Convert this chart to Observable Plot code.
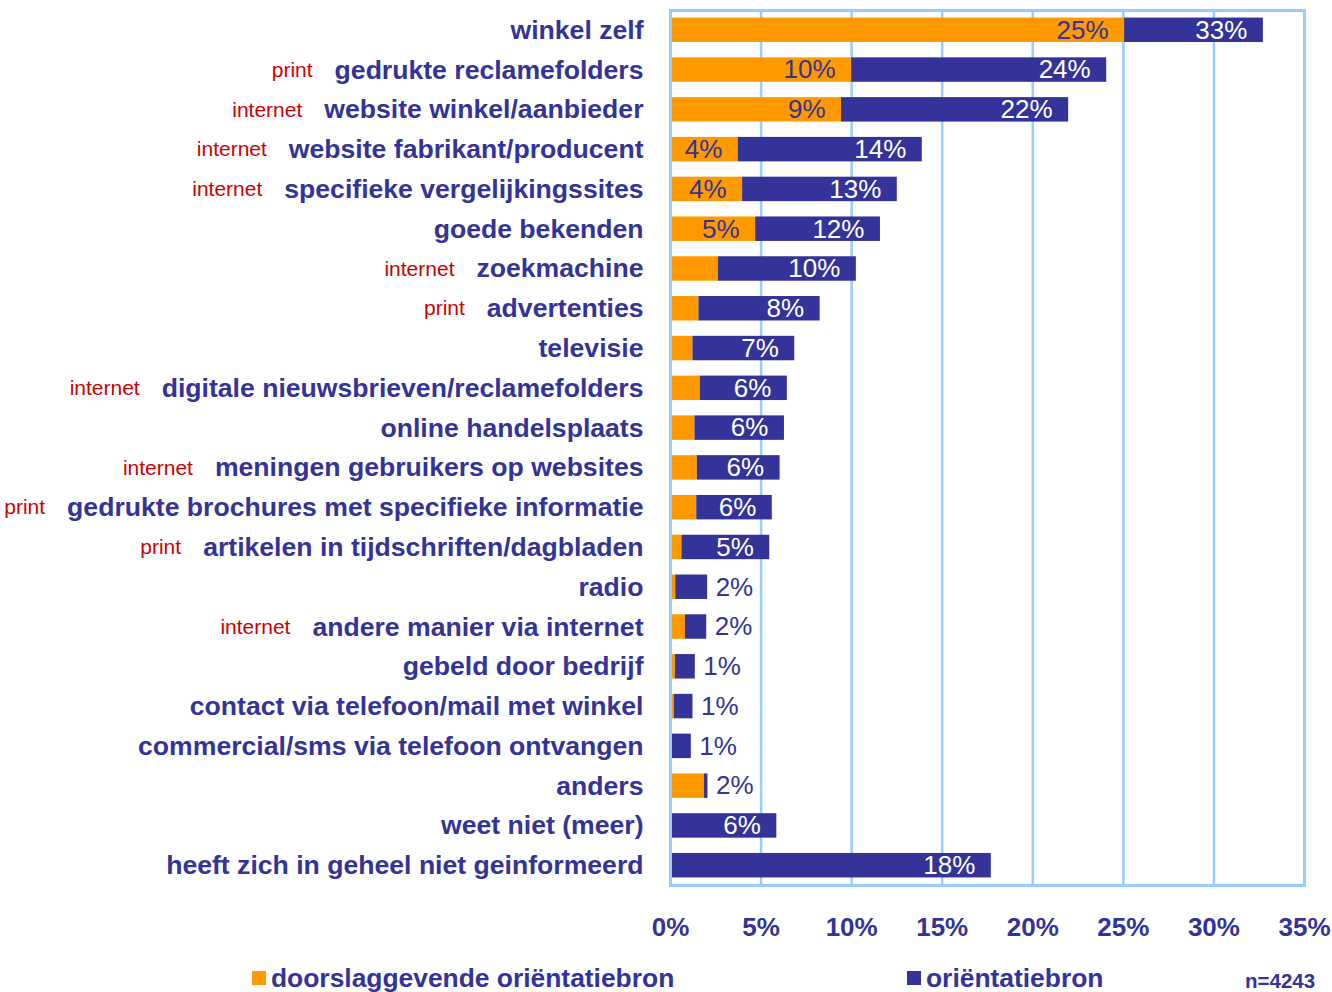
<!DOCTYPE html>
<html><head><meta charset="utf-8">
<script src="https://cdn.jsdelivr.net/npm/d3@7"></script>
<script src="https://cdn.jsdelivr.net/npm/@observablehq/plot@0.6"></script>
<style>
body{margin:0;background:#fff;font-family:"Liberation Sans",Arial,sans-serif;}
#chart{width:1332px;}
#legend{position:relative;width:1332px;height:41px;color:#333399;font-weight:bold;overflow:hidden;}
#legend .item{position:absolute;font-size:26.4px;line-height:26px;white-space:nowrap;}
#legend .sw{position:absolute;width:14px;height:14px;}
#legend .note{position:absolute;font-size:20.5px;line-height:20px;white-space:nowrap;}
</style></head>
<body>
<div id="chart"></div>
<div id="legend"></div>
<script>
// ---- data ----
const categories = [
  "winkel zelf",
  "gedrukte reclamefolders",
  "website winkel/aanbieder",
  "website fabrikant/producent",
  "specifieke vergelijkingssites",
  "goede bekenden",
  "zoekmachine",
  "advertenties",
  "televisie",
  "digitale nieuwsbrieven/reclamefolders",
  "online handelsplaats",
  "meningen gebruikers op websites",
  "gedrukte brochures met specifieke informatie",
  "artikelen in tijdschriften/dagbladen",
  "radio",
  "andere manier via internet",
  "gebeld door bedrijf",
  "contact via telefoon/mail met winkel",
  "commercial/sms via telefoon ontvangen",
  "anders",
  "weet niet (meer)",
  "heeft zich in geheel niet geinformeerd"
];
const channels = ["", "print", "internet", "internet", "internet", "", "internet", "print", "", "internet", "", "internet", "print", "print", "", "internet", "", "", "", "", "", ""];
// doorslaggevende oriëntatiebron (%)
const decisive = [25.07, 10.0, 9.44, 3.74, 3.98, 4.70, 2.64, 1.57, 1.24, 1.65, 1.35, 1.48, 1.45, 0.63, 0.29, 0.82, 0.27, 0.21, 0.05, 1.87, 0, 0];
// oriëntatiebron, totaal (%)
const orientation = [32.73, 24.08, 21.98, 13.90, 12.52, 11.59, 10.26, 8.26, 6.86, 6.45, 6.29, 6.05, 5.62, 5.48, 2.05, 2.00, 1.37, 1.24, 1.15, 2.07, 5.87, 17.71];
const xTicks = [0, 5, 10, 15, 20, 25, 30, 35];
const seriesNames = ["doorslaggevende oriëntatiebron", "oriëntatiebron"];
const sampleNote = "n=4243";

// ---- styles ----
const ORANGE = "#FF9900", NAVY = "#333399", GRID = "#99CCFF", TAG = "#CC0000";
const FONT = "'Liberation Sans', Arial, sans-serif";
const LABEL_SIZE = 26.6;

const rows = categories.map((c, i) => ({cat: c, tag: channels[i], dec: decisive[i], tot: orientation[i]}));

// measure category label widths to place channel tags to their left
const ctx = document.createElement("canvas").getContext("2d");
ctx.font = `bold ${LABEL_SIZE}px 'Liberation Sans', Arial, sans-serif`;
const LABEL_PAD = 27, TAG_GAP = 22;

const tagMarks = rows.filter(d => d.tag).map(d =>
  Plot.text([d], {
    x: () => 0, y: "cat", text: "tag",
    textAnchor: "end", dx: -(LABEL_PAD + ctx.measureText(d.cat).width + TAG_GAP),
    fill: TAG, fontSize: 21, fontWeight: "normal"
  })
);

const chart = Plot.plot({
  width: 1332, height: 951,
  marginLeft: 670, marginRight: 28, marginTop: 10, marginBottom: 66,
  style: {fontFamily: FONT, color: NAVY, background: "white", overflow: "visible"},
  x: {domain: [0, 35]},
  y: {domain: categories, paddingInner: 0.385, paddingOuter: 0.19, round: false},
  marks: [
    Plot.ruleX(xTicks.slice(1, -1), {stroke: GRID, strokeWidth: 2.5}),
    Plot.barX(rows, {y: "cat", x1: () => 0, x2: "dec", fill: ORANGE}),
    Plot.barX(rows, {y: "cat", x1: "dec", x2: "tot", fill: NAVY}),
    Plot.frame({stroke: GRID, strokeWidth: 3}),
    Plot.text(rows.filter(d => d.dec >= 3.5), {
      x: "dec", y: "cat", text: d => Math.round(d.dec) + "%",
      textAnchor: "end", dx: -16, fill: NAVY, fontSize: 26
    }),
    Plot.text(rows.filter(d => d.tot >= 3), {
      x: "tot", y: "cat", text: d => Math.round(d.tot) + "%",
      textAnchor: "end", dx: -16, fill: "white", fontSize: 26
    }),
    Plot.text(rows.filter(d => d.tot < 3), {
      x: "tot", y: "cat", text: d => Math.round(d.tot) + "%",
      textAnchor: "start", dx: 8, fill: NAVY, fontSize: 26
    }),
    Plot.axisY({tickSize: 0, tickPadding: LABEL_PAD, fontSize: LABEL_SIZE, fontWeight: "bold", label: null, fill: NAVY}),
    Plot.axisX({ticks: xTicks, tickFormat: d => d + "%", tickSize: 0, tickPadding: 32, fontSize: 26, fontWeight: "bold", label: null, fill: NAVY}),
    ...tagMarks
  ]
});
document.getElementById("chart").appendChild(chart);

// ---- legend (below the SVG) ----
const legend = document.getElementById("legend");
const legendColors = [ORANGE, NAVY];
const legendLeft = [252, 907];
seriesNames.forEach((name, i) => {
  const sw = document.createElement("div");
  sw.className = "sw";
  sw.style.left = legendLeft[i] + "px";
  sw.style.top = "20px";
  sw.style.background = legendColors[i];
  legend.appendChild(sw);
  const t = document.createElement("div");
  t.className = "item";
  t.style.left = (legendLeft[i] + 19) + "px";
  t.style.top = "14px";
  t.textContent = name;
  legend.appendChild(t);
});
const note = document.createElement("div");
note.className = "note";
note.style.left = "1245px";
note.style.top = "20px";
note.textContent = sampleNote;
legend.appendChild(note);
</script>
</body></html>
